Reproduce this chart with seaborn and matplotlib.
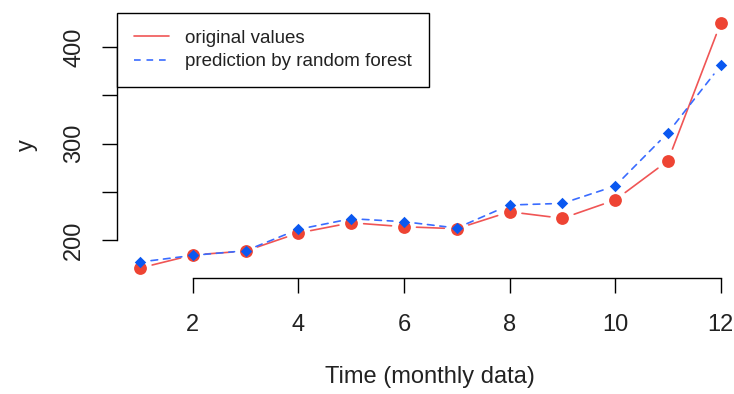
import numpy as np
import pandas as pd
import matplotlib
matplotlib.use("Agg")
import matplotlib.pyplot as plt
from matplotlib.lines import Line2D
import seaborn as sns

# ---- data ----
months = [1, 2, 3, 4, 5, 6, 7, 8, 9, 10, 11, 12]
original_values = [171, 184.5, 188.6, 207.3, 217.9, 213.8, 211.7, 229.3, 222.5, 241.5, 282.2, 425.2]
rf_prediction = [177.2, 184.1, 188.9, 211.1, 222.1, 219.0, 212.4, 236.3, 238.0, 256.0, 311.2, 381.0]
x_ticks = [2, 4, 6, 8, 10, 12]
y_ticks = [200, 250, 300, 350, 400]
y_ticklabels = ["200", "", "300", "", "400"]
labels = ["original values", "prediction by random forest"]

sns.set_theme(style="white")
plt.rcParams["font.family"] = ["Liberation Sans", "DejaVu Sans"]

RED_PT = "#EE4433"
RED_LN = "#F05555"
BLUE_PT = "#0A58F0"
BLUE_LN = "#3A6CFF"

fig = plt.figure(figsize=(7.34, 3.94), dpi=100)
fig.patch.set_facecolor("white")
ax = fig.add_axes([0.1591, 0.2949, 0.8545, 0.6721])
ax.set_facecolor("white")

df = pd.DataFrame({"month": months, "orig": original_values, "pred": rf_prediction})

# gapped line segments (R type = "b")
def gapped(xs, ys, color, ls, lw, gap):
    for i in range(len(xs) - 1):
        ax.annotate("", xy=(xs[i + 1], ys[i + 1]), xytext=(xs[i], ys[i]),
                    xycoords="data", textcoords="data",
                    arrowprops=dict(arrowstyle="-", color=color, lw=lw, linestyle=ls,
                                    shrinkA=gap, shrinkB=gap),
                    zorder=2)

gapped(months, original_values, RED_LN, "-", 1.2, 9)
gapped(months, rf_prediction, BLUE_LN, (0, (4, 3.5)), 1.2, 8)

sns.scatterplot(data=df, x="month", y="orig", ax=ax, color=RED_PT, marker="o",
                s=85, edgecolor=RED_PT, linewidth=0, zorder=3, legend=False)
sns.scatterplot(data=df, x="month", y="pred", ax=ax, color=BLUE_PT, marker="D",
                s=34, edgecolor=BLUE_PT, linewidth=0, zorder=4, legend=False)

# R-style default ranges (4% padding)
xr = max(months) - min(months)
ax.set_xlim(min(months) - 0.04 * xr, max(months) + 0.04 * xr)
allv = original_values + rf_prediction
yr = max(allv) - min(allv)
ax.set_ylim(min(allv) - 0.04 * yr, max(allv) + 0.04 * yr)

for s in ["top", "right"]:
    ax.spines[s].set_visible(False)
for s in ["left", "bottom"]:
    ax.spines[s].set_color("black")
    ax.spines[s].set_linewidth(1.0)
ax.spines["bottom"].set_bounds(x_ticks[0], x_ticks[-1])
ax.spines["left"].set_bounds(y_ticks[0], y_ticks[-1])

ax.set_xticks(x_ticks)
ax.set_xticklabels([str(t) for t in x_ticks])
ax.set_yticks(y_ticks)
ax.set_yticklabels(y_ticklabels, rotation=90, va="center")
ax.tick_params(axis="both", which="major", bottom=True, left=True, direction="out",
               length=10.8, width=1.0, color="black", labelsize=17, labelcolor="#222222")
ax.tick_params(axis="x", pad=15)
ax.tick_params(axis="y", pad=12)
ax.grid(False)

ax.set_xlabel("Time (monthly data)", fontsize=17, color="#222222", labelpad=22)
ax.set_ylabel("y", fontsize=17, color="#222222", labelpad=18)

handles = [Line2D([0], [0], color=RED_LN, lw=1.2, ls="-"),
           Line2D([0], [0], color=BLUE_LN, lw=1.2, ls=(0, (4, 3.5)))]
leg = ax.legend(handles, labels, loc="upper left", bbox_to_anchor=(0, 1),
                borderaxespad=0, fontsize=13.5, frameon=True, fancybox=False,
                handlelength=1.9, handletextpad=0.85, labelspacing=0.33,
                borderpad=0.9)
leg.get_frame().set_edgecolor("black")
leg.get_frame().set_linewidth(1.0)
leg.get_frame().set_facecolor("white")
leg.get_frame().set_alpha(1)
for t in leg.get_texts():
    t.set_color("#222222")

fig.savefig("out.png", dpi=100, facecolor="white")
